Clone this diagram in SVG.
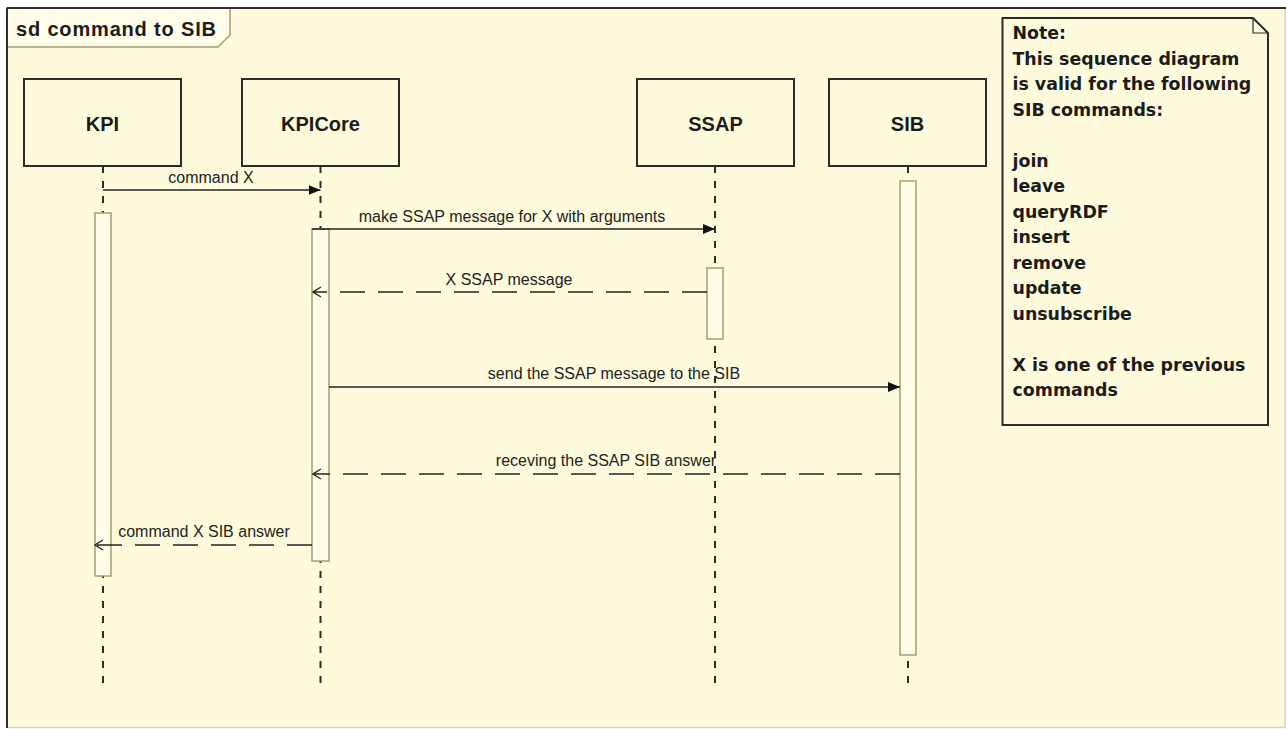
<svg xmlns="http://www.w3.org/2000/svg" width="1286" height="729" viewBox="0 0 1286 729">
  <style>
    .bg{fill:#FEFBDC}
    .lbl{font-family:"Liberation Sans",Arial,sans-serif;font-size:16px;fill:#222}
    .head{font-family:"Liberation Sans",Arial,sans-serif;font-weight:bold;font-size:20px;fill:#1c1c1c}
    .note{font-family:"DejaVu Sans",Verdana,sans-serif;font-weight:bold;font-size:17.4px;fill:#1c1c1c}
    .box{fill:#FEFBDC;stroke:#2b2b2b;stroke-width:2}
    .life{stroke:#2b2b2b;stroke-width:2;stroke-dasharray:7 8;fill:none}
    .act{fill:#FFFDE8;stroke:#A39D70;stroke-width:1.5}
    .msg{stroke:#222;stroke-width:1.5;fill:none}
    .ret{stroke-dasharray:25 13}
  </style>
  <defs>
    <marker id="arrowFilled" viewBox="0 0 12 10" refX="12" refY="5" markerWidth="12" markerHeight="10" markerUnits="userSpaceOnUse" orient="auto">
      <path d="M0,0 L12,5 L0,10 z" fill="#111"/>
    </marker>
    <marker id="arrowOpen" viewBox="0 0 10 12" refX="9" refY="6" markerWidth="10" markerHeight="12" markerUnits="userSpaceOnUse" orient="auto">
      <path d="M1,1 L9,6 L1,11" fill="none" stroke="#222" stroke-width="1.3" stroke-dasharray="none"/>
    </marker>
  </defs>

  <!-- canvas and frame -->
  <rect x="0" y="0" width="1286" height="729" fill="#ffffff"/>
  <rect class="bg" x="7" y="8" width="1278" height="720"/>
  <line x1="1285" y1="8" x2="1285" y2="728" stroke="#d6d2c0" stroke-width="1.5"/>
  <line x1="7" y1="727.5" x2="1286" y2="727.5" stroke="#d6d2c0" stroke-width="1.5"/>

  <!-- frame tab -->
  <g id="frame-tab">
    <path d="M7,8 H230 V35 L218,47 H7 Z" fill="#FFFDEA" stroke="#A39D70" stroke-width="1.5"/>
    <text class="head" x="16" y="36" textLength="200" lengthAdjust="spacing">sd  command to SIB</text>
  </g>
  <line x1="7" y1="8" x2="1286" y2="8" stroke="#2e2e2e" stroke-width="2"/>
  <line x1="7" y1="8" x2="7" y2="728" stroke="#2e2e2e" stroke-width="2"/>

  <!-- lifelines -->
  <g id="lifeline-kpi">
    <line class="life" x1="103" y1="166" x2="103" y2="690"/>
    <rect class="box" x="24" y="79" width="157" height="87"/>
    <text class="head" x="102.5" y="131" text-anchor="middle">KPI</text>
    <rect class="act" x="95" y="213" width="16" height="363"/>
  </g>
  <g id="lifeline-kpicore">
    <line class="life" x1="320.5" y1="166" x2="320.5" y2="690"/>
    <rect class="box" x="242" y="79" width="157" height="87"/>
    <text class="head" x="320.5" y="131" text-anchor="middle">KPICore</text>
    <rect class="act" x="312" y="229" width="17" height="332"/>
  </g>
  <g id="lifeline-ssap">
    <line class="life" x1="715" y1="166" x2="715" y2="690"/>
    <rect class="box" x="637" y="79" width="157" height="87"/>
    <text class="head" x="715.5" y="131" text-anchor="middle">SSAP</text>
    <rect class="act" x="707" y="268" width="16" height="71"/>
  </g>
  <g id="lifeline-sib">
    <line class="life" x1="908" y1="166" x2="908" y2="689"/>
    <rect class="box" x="829" y="79" width="157" height="87"/>
    <text class="head" x="907.5" y="131" text-anchor="middle">SIB</text>
    <rect class="act" x="900" y="181" width="16" height="474"/>
  </g>

  <!-- messages -->
  <g id="connectors">
    <line class="msg" x1="103" y1="190" x2="320.5" y2="190" marker-end="url(#arrowFilled)"/>
    <text class="lbl" x="211" y="183" text-anchor="middle">command X</text>

    <line class="msg" x1="312" y1="229" x2="715" y2="229" marker-end="url(#arrowFilled)"/>
    <text class="lbl" x="512" y="222" text-anchor="middle">make SSAP message for X with arguments</text>

    <line class="msg ret" x1="707" y1="292" x2="313" y2="292" marker-end="url(#arrowOpen)"/>
    <text class="lbl" x="509" y="285" text-anchor="middle">X SSAP message</text>

    <line class="msg" x1="329" y1="387" x2="900" y2="387" marker-end="url(#arrowFilled)"/>
    <text class="lbl" x="614" y="379" text-anchor="middle">send the SSAP message to the SIB</text>

    <line class="msg ret" x1="900" y1="474" x2="313" y2="474" marker-end="url(#arrowOpen)"/>
    <text class="lbl" x="606" y="466" text-anchor="middle">receving the SSAP SIB answer</text>

    <line class="msg ret" x1="312" y1="545" x2="95" y2="545" marker-end="url(#arrowOpen)"/>
    <text class="lbl" x="204" y="537" text-anchor="middle">command X SIB answer</text>
  </g>

  <!-- note -->
  <g id="note">
    <path d="M1002.5,18 H1253 L1268,33 V425 H1002.5 Z" fill="#FEFBDC" stroke="#2b2b2b" stroke-width="2"/>
    <path d="M1253,18 V33 H1268" fill="none" stroke="#2b2b2b" stroke-width="1.2"/>
    <text class="note" x="1012.5" y="39">Note:</text>
    <text class="note" x="1012.5" y="64.5">This sequence diagram</text>
    <text class="note" x="1012.5" y="90">is valid for the following</text>
    <text class="note" x="1012.5" y="115.5">SIB commands:</text>
    <text class="note" x="1012.5" y="166.5">join</text>
    <text class="note" x="1012.5" y="192">leave</text>
    <text class="note" x="1012.5" y="217.5">queryRDF</text>
    <text class="note" x="1012.5" y="243">insert</text>
    <text class="note" x="1012.5" y="268.5">remove</text>
    <text class="note" x="1012.5" y="294">update</text>
    <text class="note" x="1012.5" y="319.5">unsubscribe</text>
    <text class="note" x="1012.5" y="370.5">X is one of the previous</text>
    <text class="note" x="1012.5" y="396">commands</text>
  </g>
</svg>
